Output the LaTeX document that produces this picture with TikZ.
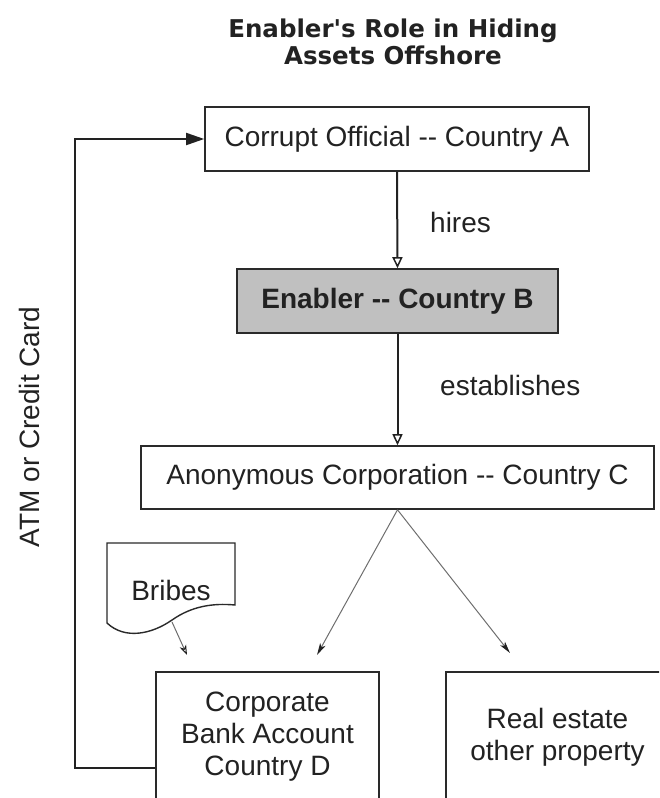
\documentclass[tikz,border=0pt]{standalone}
\usepackage{fontspec}
\setmainfont{Liberation Sans}
\newfontfamily\titlefont{DejaVu Sans}
\usetikzlibrary{arrows.meta}
\definecolor{ink}{HTML}{222222}
\definecolor{boxline}{HTML}{2A2A2A}
\definecolor{graybox}{HTML}{C0C0C0}
\definecolor{thinline}{HTML}{6E6E6E}
\begin{document}
\begin{tikzpicture}[x=1pt,y=-1pt,
  every node/.style={text=ink, font=\fontsize{28}{32}\selectfont},
  plainbox/.style={draw=boxline, line width=1.6pt, fill=white, inner sep=0pt, align=center},
  mainflow/.style={draw=ink, line width=2pt, -{Triangle[open,length=11pt,width=10pt,line width=1.5pt]}},
  subflow/.style={draw=thinline, line width=1pt, -{Stealth[length=12pt,width=6pt,inset=3pt,ink]}},
  bribeflow/.style={draw=thinline, line width=1pt, -{Stealth[open,length=10pt,width=7pt,inset=3pt,ink]}},
  loopflow/.style={draw=ink, line width=1.8pt, -{Triangle[length=18pt,width=12pt]}},
  lbl/.style={anchor=west, inner sep=0pt}
]
\useasboundingbox (0,0) rectangle (659,798);
\clip (0,0) rectangle (659,798);

% title
\node[font={\titlefont\bfseries\fontsize{24.5}{27}\selectfont}, align=center, inner sep=0pt] (title) at (393,42)
  {Enabler's Role in Hiding\\Assets Offshore};

% boxes
\node[plainbox, minimum width=384pt, minimum height=64pt] (corrupt) at (397,139) {Corrupt Official -{}- Country A};
\node[plainbox, fill=graybox, minimum width=321pt, minimum height=64pt, font=\bfseries\fontsize{28}{32}\selectfont] (enabler) at (397.5,301) {Enabler -{}- Country B};
\node[plainbox, minimum width=513pt, minimum height=63pt] (anon) at (397.5,477.5) {Anonymous Corporation -{}- Country C};
\node[plainbox, minimum width=223pt, minimum height=130pt] (corporate) at (267.5,737) {Corporate\\Bank Account\\Country D};
\node[plainbox, minimum width=223pt, minimum height=130pt] (realestate) at (557.5,737) {Real estate\\other property};

% bribes document shape
\draw[draw=boxline, line width=1.4pt, fill=white]
  (107,623) -- (107,543) -- (235,543) -- (235,605)
  .. controls (213,603) and (192,606) .. (172,620)
  .. controls (152,634) and (125,640) .. (107,623) -- cycle;
\node[inner sep=0pt] (bribes) at (171,590) {Bribes};
\coordinate (bribesout) at (172,622);
\coordinate (bribesend) at (187,655);

% labels
\node[lbl] (hires) at (430,222) {hires};
\node[lbl] (establishes) at (440,385) {establishes};

% vertical label
\node[rotate=90, inner sep=0pt] (atm) at (29,427) {ATM or Credit Card};

% connectors
\draw[mainflow] (corrupt.south) -- (enabler.north);
\draw[mainflow] (enabler.south) -- (anon.north);

\coordinate (leftend) at (317,655);
\coordinate (rightend) at (510,653);
\draw[subflow] (anon.south) -- (leftend);
\draw[subflow] (anon.south) -- (rightend);

\draw[bribeflow] (bribesout) -- (bribesend);

\coordinate (loopbl) at (75,768);
\coordinate (looptl) at (75,139);
\draw[loopflow] ([yshift=-31pt]corporate.west) -- (loopbl) -- (looptl) -- (corrupt.west);
\end{tikzpicture}
\end{document}
